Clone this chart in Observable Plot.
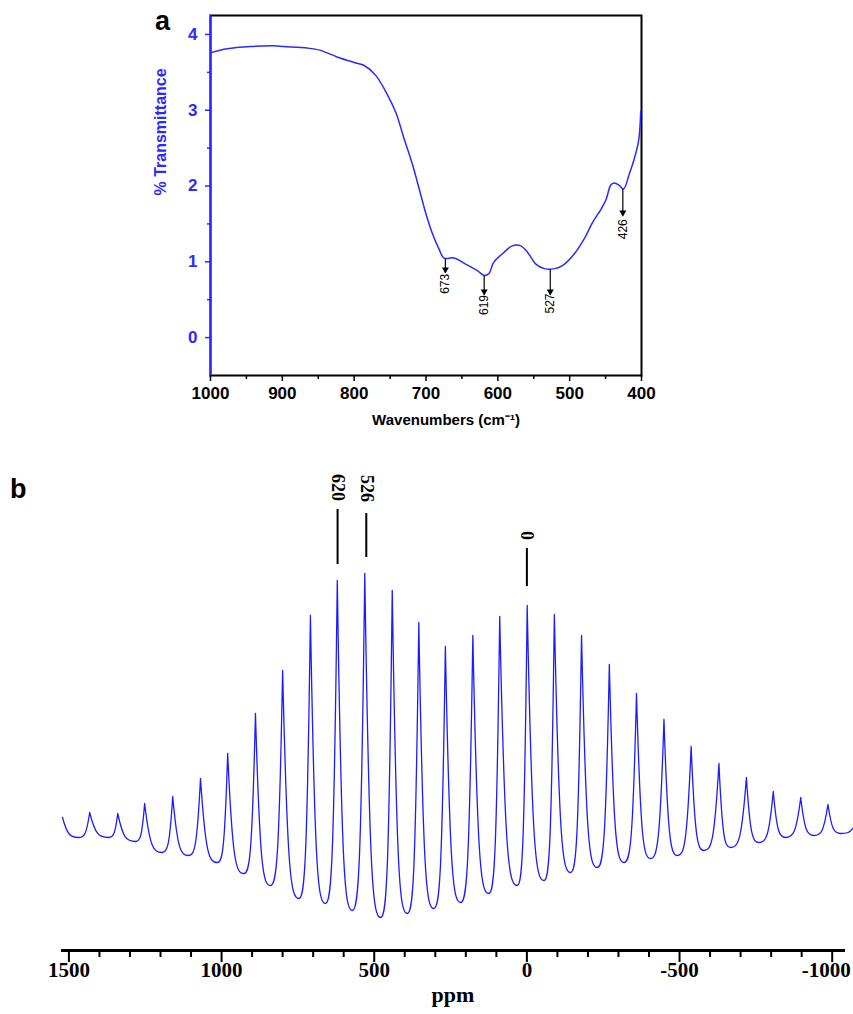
<!DOCTYPE html>
<html>
<head>
<meta charset="utf-8">
<script src="https://cdn.jsdelivr.net/npm/d3@7"></script>
<script src="https://cdn.jsdelivr.net/npm/@observablehq/plot@0.6"></script>
<style>
  body { margin: 0; background: #fff; }
  #wrap { position: relative; width: 853px; height: 1014px; overflow: hidden; background: #fff; }
  #panelA { position: absolute; left: 0; top: 0; }
  #panelB { position: absolute; left: 0; top: 455px; }
  .panel { position: absolute; font-family: "Liberation Sans", Arial, sans-serif; font-weight: bold; font-size: 27px; line-height: 1; }
</style>
</head>
<body>
<div id="wrap">
  <div id="panelA"></div>
  <div id="panelB"></div>
  <div class="panel" style="left:155px; top:8px;">a</div>
  <div class="panel" style="left:10px; top:476px;">b</div>
</div>
<script>
// ---------- Panel a: FTIR ----------
const irWavenumber = [999, 977, 944, 912, 898, 865, 847, 823, 800, 786, 770, 754, 742, 731, 719, 710, 700, 691, 682, 675, 661, 645, 628, 619, 612, 606, 592, 580, 568, 559, 547, 535, 521, 510, 494, 480, 468, 456, 449, 443, 438, 431, 425, 417, 410, 404, 401];
const irTransmittance = [3.76, 3.81, 3.84, 3.85, 3.84, 3.82, 3.79, 3.70, 3.63, 3.59, 3.46, 3.21, 2.97, 2.64, 2.29, 1.98, 1.63, 1.37, 1.17, 1.05, 1.05, 0.97, 0.88, 0.82, 0.85, 0.99, 1.12, 1.21, 1.21, 1.13, 0.97, 0.91, 0.91, 0.95, 1.10, 1.30, 1.52, 1.70, 1.83, 2.01, 2.04, 2.01, 1.96, 2.16, 2.36, 2.60, 2.99];
const irBandLabels = ["673", "619", "527", "426"];
const irBandPos = [673, 619, 527, 426];
const irArrowStart = [1.04, 0.82, 0.90, 1.96];
const irArrowTip = [0.86, 0.57, 0.57, 1.61];
const irLabelY = [0.71, 0.43, 0.45, 1.43];
const irXTicks = [1000, 900, 800, 700, 600, 500, 400];
const irXMinor = [950, 850, 750, 650, 550, 450];
const irYTicks = [0, 1, 2, 3, 4];
const irYMinor = [0.5, 1.5, 2.5, 3.5];

// ---------- Panel b: NMR spinning sidebands ----------
const peakPpm = [1432, 1340, 1252, 1160, 1069, 980, 889, 800, 709, 621, 531, 441, 354, 267, 177, 89, -1, -90, -179, -270, -359, -449, -538, -629, -719, -807, -897, -986];
const peakInt = [136, 135, 145, 152, 170, 195, 235, 278, 333, 368, 375, 358, 326, 302, 313, 332, 343, 334, 313, 284, 255, 229, 202, 185, 171, 157, 151, 144];
const valleyPpm = [1468, 1370, 1282, 1195, 1108, 1014, 927, 840, 747, 660, 572, 479, 392, 305, 217, 125, 32, -56, -143, -230, -318, -405, -493, -580, -667, -760, -847, -940, -1028];
const valleyInt = [111, 111, 107, 96, 93, 86, 75, 63, 50, 45, 38, 31, 35, 40, 46, 55, 63, 68, 76, 81, 86, 90, 93, 98, 101, 106, 111, 113, 115];
const specEdgePpm = [1521, -1070];
const specEdgeInt = [131, 121];
const nmrTicks = [1500, 1000, 500, 0, -500, -1000];
const nmrMinor = [1400, 1300, 1200, 1100, 900, 800, 700, 600, 400, 300, 200, 100, -100, -200, -300, -400, -600, -700, -800, -900];
const nmrLabels = ["620", "526", "0"];
const nmrLabelPpm = [620, 526, 0];
const nmrLineTop = [439, 435, 400];
const nmrLineBottom = [384, 391, 362];
const nmrLabelInt = [461, 460, 413];

const BLUE = "#2a2aff";
const sans = "Liberation Sans, Arial, sans-serif";
const serif = "Liberation Serif, Times New Roman, serif";

// build tables
const irData = irWavenumber.map((w, i) => ({w, t: irTransmittance[i]}));
const irBands = irBandPos.map((w, i) => ({w, y1: irArrowStart[i], y2: irArrowTip[i], ly: irLabelY[i], label: irBandLabels[i]}));

const spec = [{ppm: specEdgePpm[0], I: specEdgeInt[0]}];
for (let i = 0; i < valleyPpm.length; i++) {
  spec.push({ppm: valleyPpm[i], I: valleyInt[i]});
  if (i < peakPpm.length) spec.push({ppm: peakPpm[i], I: peakInt[i]});
}
spec.push({ppm: specEdgePpm[1], I: specEdgeInt[1]});
const nmrAnn = nmrLabelPpm.map((p, i) => ({p, y1: nmrLineBottom[i], y2: nmrLineTop[i], ly: nmrLabelInt[i], label: nmrLabels[i]}));

// rendering curve for sharp sideband spikes between read valley/peak points
function spikeCurve(context) {
  let pts = [];
  return {
    areaStart() {}, areaEnd() {},
    lineStart() { pts = []; },
    point(x, y) { pts.push([+x, +y]); },
    lineEnd() {
      if (!pts.length) return;
      context.moveTo(pts[0][0], pts[0][1]);
      for (let i = 1; i < pts.length; i++) {
        const [ax, ay] = pts[i - 1], [bx, by] = pts[i];
        const up = by < ay;
        const [vx, vy, px, py] = up ? [ax, ay, bx, by] : [bx, by, ax, ay];
        const c1 = [vx + 0.5 * (px - vx), vy];
        const c2 = [vx + 0.7 * (px - vx), vy + 0.1 * (py - vy)];
        if (up) context.bezierCurveTo(c1[0], c1[1], c2[0], c2[1], bx, by);
        else context.bezierCurveTo(c2[0], c2[1], c1[0], c1[1], bx, by);
      }
    }
  };
}

const plotA = Plot.plot({
  width: 853, height: 455,
  marginLeft: 210, marginRight: 212, marginTop: 15, marginBottom: 80,
  x: {domain: [1000, 400]},
  y: {domain: [-0.5, 4.25]},
  style: {fontFamily: sans, background: "white", overflow: "visible"},
  marks: [
    Plot.frame({stroke: "black", strokeWidth: 2}),
    Plot.frame({anchor: "left", stroke: BLUE, strokeWidth: 2}),
    Plot.axisX({ticks: irXTicks, tickSize: 6, tickPadding: 5, tickFormat: d => String(d), fontSize: 17, fontWeight: "bold", fontFamily: sans, stroke: "black", fill: "black", strokeWidth: 1.5, label: null}),
    Plot.axisX({ticks: irXMinor, tickSize: 4, fill: "none", stroke: "black", strokeWidth: 1.5, label: null}),
    Plot.axisY({ticks: irYTicks, tickSize: 5, tickPadding: 8, tickFormat: d => String(d), fontSize: 17, fontWeight: "bold", fontFamily: sans, stroke: BLUE, fill: BLUE, strokeWidth: 1.5, label: null}),
    Plot.axisY({ticks: irYMinor, tickSize: 3, fill: "none", stroke: BLUE, strokeWidth: 1.5, label: null}),
    Plot.line(irData, {x: "w", y: "t", stroke: BLUE, strokeWidth: 1.5, curve: "catmull-rom"}),
    Plot.link(irBands, {x1: "w", x2: "w", y1: "y1", y2: "y2", stroke: "black", strokeWidth: 1.2}),
    Plot.dot(irBands, {x: "w", y: "y2", symbol: "triangle", rotate: 180, r: 2.6, fill: "black", stroke: null, dy: -3}),
    Plot.text(irBands, {x: "w", y: "ly", text: "label", rotate: -90, fontSize: 12, fontFamily: sans, fill: "black"}),
    Plot.text(["% Transmittance"], {frameAnchor: "left", dx: -50, rotate: -90, text: d => d, fontSize: 16, fontWeight: "bold", fontFamily: sans, fill: BLUE}),
    Plot.text(["Wavenumbers (cm⁻¹)"], {frameAnchor: "bottom", dx: 20, dy: 49, text: d => d, fontSize: 15, fontWeight: "bold", fontFamily: sans, fill: "black"})
  ]
});
document.getElementById("panelA").append(plotA);

const tickText = {frameAnchor: "bottom", dy: 26, text: d => String(d), fontSize: 21, fontWeight: "bold", fontFamily: serif, fill: "black"};
const plotB = Plot.plot({
  width: 853, height: 559,
  marginLeft: 62, marginRight: 10, marginTop: 35, marginBottom: 64,
  x: {domain: [1521, -1037]},
  y: {domain: [-2, 458], axis: null},
  style: {fontFamily: serif, background: "white", overflow: "visible"},
  marks: [
    Plot.line(spec, {x: "ppm", y: "I", stroke: "#1c1cff", strokeWidth: 1.3, curve: spikeCurve}),
    Plot.frame({anchor: "bottom", stroke: "black", strokeWidth: 3}),
    Plot.axisX({ticks: nmrTicks, tickSize: 12, fill: "none", stroke: "black", strokeWidth: 2, label: null}),
    Plot.axisX({ticks: nmrMinor, tickSize: 7, fill: "none", stroke: "black", strokeWidth: 2, label: null}),
    Plot.text(nmrTicks.slice(0, -1), {x: d => d, ...tickText}),
    Plot.text(nmrTicks.slice(-1), {x: d => d, ...tickText, dx: -6}),
    Plot.ruleX(nmrAnn, {x: "p", y1: "y1", y2: "y2", stroke: "black", strokeWidth: 2}),
    Plot.text(nmrAnn, {x: "p", y: "ly", text: "label", rotate: 90, fontSize: 18, fontWeight: "bold", fontFamily: serif, fill: "black"}),
    Plot.text(["ppm"], {frameAnchor: "bottom", dy: 51, text: d => d, fontSize: 22, fontWeight: "bold", fontFamily: serif, fill: "black"})
  ]
});
document.getElementById("panelB").append(plotB);
</script>
</body>
</html>
